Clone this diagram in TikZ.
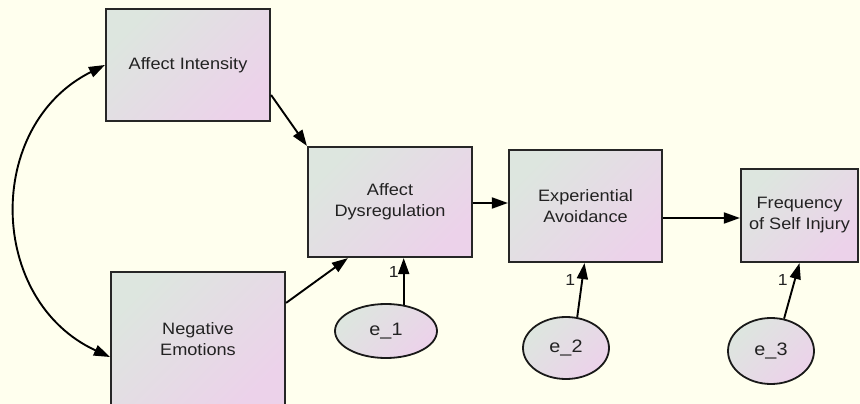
\documentclass[tikz,border=0pt]{standalone}
\usepackage{fontspec}
\setmainfont{Liberation Sans}[FakeStretch=1.1]
\usetikzlibrary{arrows.meta,shapes.geometric,calc}
\definecolor{bgc}{HTML}{FFFFEE}
\definecolor{gA}{HTML}{DDE6DF}
\definecolor{gB}{HTML}{ECD2EA}
\definecolor{txt}{HTML}{222222}
\tikzset{
  varbox/.style={draw=black!85, line width=2.2pt, rectangle, top color=gA, bottom color=gB, shading angle=45,
    align=center, text=txt, font=\fontsize{16.5}{21}\selectfont, inner sep=0pt},
  errell/.style={draw=black!90, line width=1.8pt, ellipse, top color=gA, bottom color=gB, shading angle=45,
    inner sep=0pt, text=txt, font=\fontsize{18}{20}\selectfont},
  arr/.style={line width=1.9pt, draw=black, -{Triangle[length=16pt,width=11pt]}},
  darr/.style={line width=1.9pt, draw=black, {Triangle[length=16pt,width=11pt]}-{Triangle[length=16pt,width=11pt]}},
  lbl/.style={font=\fontsize{16}{18}\selectfont, text=txt, inner sep=0pt}
}
\begin{document}
\begin{tikzpicture}[x=1pt,y=-1pt]
\useasboundingbox (0,0) rectangle (860,404);
\fill[bgc] (0,0) rectangle (860,404);
\clip (0,0) rectangle (860,404);
\node[varbox, minimum width=164pt, minimum height=112pt] (ai) at (188,65) {Affect Intensity};
\node[varbox, minimum width=164pt, minimum height=110pt] (ad) at (390,202) {Affect\\Dysregulation};
\node[varbox, minimum width=153pt, minimum height=112pt] (ea) at (585.5,206) {Experiential\\Avoidance};
\node[varbox, minimum width=117pt, minimum height=93pt] (fr) at (799.5,215.5) {Frequency\\of Self Injury};
\node[varbox, minimum width=174pt, minimum height=134pt] (ne) at (198,339) {Negative\\Emotions};
\node[errell, minimum width=102pt, minimum height=54pt] (e1) at (386,331) {e\_1};
\node[errell, minimum width=86pt, minimum height=62pt] (e2) at (566,348) {e\_2};
\node[errell, minimum width=86pt, minimum height=66pt] (e3) at (771,351) {e\_3};
% paths
\draw[arr] ([yshift=-30pt]ai.east) -- (ad.north west);
\draw[arr] ([yshift=-32pt]ne.north east) -- ([xshift=41pt]ad.south west);
\draw[arr] ([yshift=-1pt]ad.east) -- ([yshift=-1pt]ad.east -| ea.west);
\draw[arr] ([yshift=-12pt]ea.east) -- ([yshift=-12pt]ea.east -| fr.west);
\draw[arr] (e1.56) -- (e1.56 |- ad.south) node[lbl, pos=0.7, xshift=-10pt] {1};
\draw[arr] (e2.70) -- ([xshift=-1pt]ea.south) node[lbl, pos=0.69, xshift=-12pt] {1};
\draw[arr] (e3.68) -- (fr.south) node[lbl, pos=0.7, xshift=-12pt] {1};
% covariance
\draw[darr] (ai.west) .. controls (-16,125.5) and (-12.6,300.6) .. ([yshift=-18pt]ne.west);
\end{tikzpicture}
\end{document}
